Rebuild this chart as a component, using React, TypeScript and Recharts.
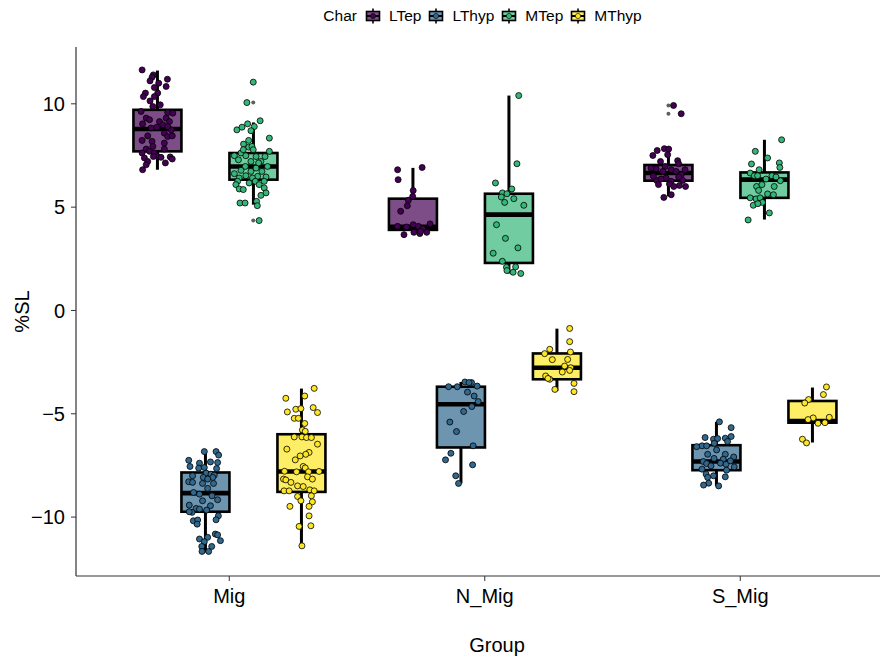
import React from 'react';
import { ComposedChart, Bar, Scatter, XAxis, YAxis, Legend } from 'recharts';

const categories = ['Mig', 'N_Mig', 'S_Mig'];
const seriesNames = ['LTep', 'LThyp', 'MTep', 'MThyp'];
const seriesColors = ['#440154', '#31688E', '#35B779', '#FDE725'];
const boxFills = ['#7C4D87', '#6E95B0', '#71CCA1', '#FDEE66'];
const yTicks = [-10, -5, 0, 5, 10];

// [lower whisker, q1, median, q3, upper whisker] for Mig, N_Mig, S_Mig
const ltepStats = [
  [6.81, 7.7, 8.78, 9.71, 11.61],
  [3.67, 3.9, 4.05, 5.41, 6.9],
  [5.52, 6.28, 6.65, 7.04, 7.86],
];
const lthypStats = [
  [-11.71, -9.74, -8.84, -7.84, -6.83],
  [-8.37, -6.63, -4.54, -3.69, -3.46],
  [-8.49, -7.73, -7.31, -6.52, -5.39],
];
const mtepStats = [
  [5.12, 6.33, 6.97, 7.62, 9.1],
  [1.79, 2.3, 4.64, 5.65, 10.4],
  [4.4, 5.45, 6.33, 6.68, 8.26],
];
const mthypStats = [
  [-11.38, -8.78, -7.79, -5.99, -3.78],
  [-3.9, -3.33, -2.77, -2.08, -0.88],
  [-6.39, -5.43, -5.35, -4.38, -3.73],
];
const allStats = [ltepStats, lthypStats, mtepStats, mthypStats];

// outliers: [category index, series index, value]
const outliers: [number, number, number][] = [
  [0, 2, 11.05], [0, 2, 10.06], [0, 2, 4.35],
  [2, 0, 9.92], [2, 0, 9.52],
];

// jittered observations: [category index, jitter, value]
const ltepPoints: [number, number, number][] = [
  [0, -0.06, 11.64], [0, -0.016, 11.4], [0, -0.021, 11.29], [0, -0.029, 11.11], [0, 0.005, 11.0],
  [0, 0.039, 11.19], [0, 0.034, 10.84], [0, -0.012, 10.79], [0, 0.001, 10.52], [0, -0.047, 10.52],
  [0, -0.055, 10.35], [0, -0.012, 10.35], [0, -0.029, 10.14], [0, -0.018, 9.87], [0, 0.011, 9.95],
  [0, -0.064, 9.63], [0, 0.04, 9.58], [0, 0.06, 9.55], [0, 0.034, 9.31], [0, -0.044, 9.31],
  [0, 0.008, 9.14], [0, 0.047, 9.14], [0, -0.058, 9.03], [0, 0.021, 8.99], [0, -0.025, 8.83],
  [0, 0.054, 8.74], [0, 0.027, 8.58], [0, -0.038, 8.45], [0, 0.04, 8.42], [0, 0.058, 8.45],
  [0, -0.06, 8.23], [0, -0.021, 8.18], [0, 0.027, 8.1], [0, -0.018, 7.94], [0, -0.044, 7.81],
  [0, -0.031, 7.7], [0, -0.06, 7.62], [0, -0.012, 7.62], [0, 0.027, 7.81], [0, 0.001, 7.45],
  [0, -0.051, 7.38], [0, 0.014, 7.41], [0, 0.05, 7.43], [0, 0.058, 7.33], [0, -0.038, 7.21],
  [0, -0.044, 7.05], [0, 0.031, 7.14], [0, -0.058, 6.81], [0, -0.016, 7.45], [0, -0.031, 9.23],
  [0, -0.003, 8.87], [0, 0.04, 8.9],
  [1, -0.06, 6.81], [1, -0.058, 6.33], [1, 0.036, 6.92], [1, 0.001, 5.8], [1, -0.001, 5.52],
  [1, -0.018, 5.33], [1, -0.022, 5.07], [1, -0.048, 4.8], [1, -0.06, 4.07], [1, -0.025, 4.04],
  [1, 0.001, 4.15], [1, 0.021, 4.07], [1, 0.038, 3.95], [1, 0.067, 4.19], [1, -0.035, 3.67],
  [1, 0.004, 3.78], [1, 0.027, 3.72], [1, 0.054, 3.78], [1, 0.03, 3.83],
  [2, 0.02, 9.92], [2, 0.05, 9.52], [2, -0.061, 7.5], [2, -0.044, 7.74], [2, -0.016, 7.83],
  [2, 0.001, 7.81], [2, -0.003, 7.54], [2, -0.031, 7.21], [2, 0.036, 7.25], [2, 0.04, 7.1],
  [2, -0.048, 6.86], [2, -0.013, 6.97], [2, 0.011, 6.81], [2, 0.03, 6.73], [2, 0.065, 6.81],
  [2, -0.022, 6.73], [2, 0.05, 6.57], [2, -0.046, 6.29], [2, -0.009, 6.41], [2, 0.011, 6.25],
  [2, 0.056, 6.29], [2, -0.029, 6.36], [2, 0.04, 6.46], [2, -0.039, 6.09], [2, 0.004, 6.12],
  [2, 0.043, 6.05], [2, 0.067, 6.0], [2, 0.021, 6.0], [2, 0.011, 5.6], [2, -0.018, 5.47],
  [2, -0.068, 6.89], [2, -0.059, 6.49],
];
const lthypPoints: [number, number, number][] = [
  [0, -0.004, -6.83], [0, 0.042, -6.83], [0, 0.052, -7.0], [0, -0.065, -7.25], [0, -0.023, -7.39],
  [0, 0.02, -7.33], [0, 0.048, -7.36], [0, -0.06, -7.55], [0, -0.026, -7.63], [0, -0.004, -7.6],
  [0, 0.044, -7.65], [0, 0.003, -7.87], [0, 0.022, -7.92], [0, 0.035, -7.97], [0, -0.05, -8.0],
  [0, -0.008, -8.08], [0, -0.065, -8.29], [0, -0.05, -8.32], [0, -0.011, -8.37], [0, 0.032, -8.37],
  [0, 0.009, -8.61], [0, -0.046, -8.81], [0, -0.023, -8.89], [0, 0.026, -8.97], [0, -0.011, -9.21],
  [0, 0.048, -9.16], [0, -0.063, -9.42], [0, -0.036, -9.58], [0, 0.02, -9.45], [0, -0.023, -9.61],
  [0, -0.052, -9.77], [0, 0.005, -9.66], [0, 0.051, -9.94], [0, -0.047, -10.18], [0, -0.03, -10.14],
  [0, 0.042, -10.13], [0, -0.032, -10.34], [0, 0.039, -10.82], [0, 0.048, -10.86], [0, -0.023, -11.06],
  [0, 0.009, -10.98], [0, 0.059, -11.14], [0, -0.004, -11.19], [0, -0.014, -11.42], [0, 0.025, -11.42],
  [0, -0.013, -11.66], [0, 0.013, -11.66], [0, 0.029, -8.08], [0, 0.009, -8.16], [0, -0.063, -9.74],
  [1, -0.048, -3.69], [1, -0.014, -3.69], [1, 0.016, -3.46], [1, 0.042, -3.49], [1, 0.064, -3.66],
  [1, 0.026, -3.95], [1, 0.052, -4.14], [1, 0.068, -4.41], [1, 0.043, -4.65], [1, 0.011, -4.89],
  [1, -0.043, -5.4], [1, -0.017, -5.86], [1, 0.048, -6.55], [1, -0.039, -6.91], [1, -0.06, -7.23],
  [1, 0.046, -7.47], [1, -0.02, -8.0], [1, -0.009, -8.37], [1, 0.032, -3.49],
  [2, 0.012, -5.39], [2, 0.058, -5.67], [2, -0.044, -6.15], [2, -0.011, -6.23], [2, 0.005, -6.2],
  [2, 0.035, -6.18], [2, 0.058, -6.1], [2, 0.044, -6.34], [2, -0.056, -6.55], [2, -0.038, -6.55],
  [2, -0.008, -6.43], [2, 0.001, -6.75], [2, -0.034, -6.96], [2, 0.035, -6.96], [2, 0.068, -7.09],
  [2, -0.009, -7.16], [2, -0.051, -7.31], [2, 0.027, -7.2], [2, -0.038, -7.41], [2, -0.021, -7.52],
  [2, 0.016, -7.39], [2, 0.038, -7.44], [2, 0.055, -7.28], [2, 0.07, -7.57], [2, -0.056, -7.68],
  [2, 0.04, -7.73], [2, -0.04, -7.92], [2, -0.011, -8.0], [2, 0.035, -8.05], [2, -0.034, -8.08],
  [2, -0.03, -8.36], [2, -0.05, -8.45], [2, 0.009, -8.49], [2, -0.077, -6.59],
];
const mtepPoints: [number, number, number][] = [
  [0, 0.0, 11.05], [0, -0.025, 10.06], [0, 0.027, 9.18], [0, -0.064, 8.74], [0, -0.044, 8.87],
  [0, -0.022, 9.03], [0, 0.004, 8.9], [0, -0.009, 8.7], [0, 0.063, 8.34], [0, -0.038, 8.05],
  [0, -0.018, 7.9], [0, -0.005, 7.94], [0, 0.063, 7.7], [0, -0.048, 7.62], [0, -0.074, 7.49],
  [0, -0.029, 7.49], [0, 0.011, 7.45], [0, 0.046, 7.45], [0, -0.058, 7.29], [0, -0.009, 7.21],
  [0, 0.03, 7.21], [0, 0.056, 6.97], [0, -0.031, 6.97], [0, 0.011, 6.89], [0, -0.048, 6.78],
  [0, -0.009, 6.73], [0, 0.034, 6.73], [0, -0.074, 6.62], [0, -0.029, 6.52], [0, 0.017, 6.49],
  [0, -0.055, 6.41], [0, -0.003, 6.41], [0, 0.05, 6.46], [0, -0.061, 6.25], [0, -0.016, 6.17],
  [0, 0.008, 6.25], [0, 0.043, 6.25], [0, -0.068, 6.09], [0, 0.023, 6.09], [0, -0.055, 5.88],
  [0, -0.039, 5.85], [0, 0.043, 5.93], [0, 0.05, 5.69], [0, 0.03, 5.57], [0, -0.052, 5.2],
  [0, -0.032, 5.2], [0, 0.013, 5.28], [0, 0.016, 5.07], [0, 0.023, 4.35], [0, -0.018, 8.23],
  [0, 0.0, 7.78], [0, 0.021, 7.14], [0, -0.039, 7.78],
  [1, 0.039, 10.4], [1, 0.032, 7.1], [1, -0.052, 6.17], [1, -0.025, 5.69], [1, -0.007, 5.65],
  [1, 0.012, 5.88], [1, -0.029, 5.49], [1, 0.02, 5.41], [1, -0.016, 5.23], [1, 0.059, 5.09],
  [1, -0.048, 4.15], [1, -0.013, 3.49], [1, 0.036, 3.03], [1, -0.061, 2.77], [1, -0.025, 2.38],
  [1, -0.009, 2.09], [1, 0.027, 2.11], [1, -0.007, 1.93], [1, 0.017, 1.85], [1, 0.047, 1.79],
  [2, 0.068, 8.26], [2, -0.035, 7.7], [2, 0.013, 7.38], [2, -0.05, 7.09], [2, 0.059, 7.14],
  [2, 0.061, 6.92], [2, -0.02, 6.81], [2, -0.055, 6.65], [2, -0.039, 6.52], [2, -0.026, 6.52],
  [2, 0.03, 6.52], [2, 0.007, 6.36], [2, 0.063, 6.28], [2, -0.03, 6.0], [2, -0.009, 6.09],
  [2, 0.039, 6.0], [2, -0.022, 5.81], [2, 0.013, 5.64], [2, 0.036, 5.6], [2, -0.055, 5.45],
  [2, -0.032, 5.4], [2, -0.016, 5.45], [2, -0.007, 5.23], [2, -0.043, 5.09], [2, -0.025, 5.17],
  [2, 0.02, 4.72], [2, -0.063, 4.38], [2, 0.046, 6.46],
];
const mthypPoints: [number, number, number][] = [
  [0, 0.051, -3.77], [0, 0.014, -4.14], [0, -0.06, -4.25], [0, -0.021, -4.78], [0, -0.001, -4.75],
  [0, 0.047, -4.7], [0, 0.064, -4.94], [0, -0.054, -4.91], [0, -0.027, -5.22], [0, -0.011, -5.22],
  [0, 0.014, -5.47], [0, 0.005, -5.78], [0, 0.016, -5.85], [0, -0.027, -6.12], [0, 0.003, -6.12],
  [0, 0.021, -6.15], [0, 0.04, -6.15], [0, 0.064, -6.47], [0, -0.056, -6.71], [0, 0.031, -6.87],
  [0, 0.018, -6.96], [0, -0.004, -7.04], [0, -0.023, -7.23], [0, 0.008, -7.55], [0, 0.016, -7.62],
  [0, -0.065, -7.78], [0, -0.018, -7.81], [0, 0.029, -7.81], [0, 0.07, -7.79], [0, 0.025, -8.05],
  [0, -0.069, -8.16], [0, -0.06, -8.2], [0, 0.044, -8.16], [0, -0.04, -8.32], [0, -0.014, -8.49],
  [0, 0.008, -8.52], [0, -0.067, -8.73], [0, -0.047, -8.73], [0, 0.034, -8.68], [0, 0.051, -8.73],
  [0, 0.04, -8.97], [0, -0.014, -9.0], [0, -0.001, -9.21], [0, 0.044, -9.26], [0, -0.044, -9.48],
  [0, 0.031, -9.48], [0, 0.031, -9.94], [0, -0.008, -10.45], [0, 0.038, -10.42], [0, 0.003, -11.39],
  [1, 0.051, -0.87], [1, 0.051, -1.51], [1, 0.054, -2.01], [1, -0.027, -1.88], [1, -0.047, -2.09],
  [1, -0.017, -2.38], [1, 0.043, -2.37], [1, 0.031, -2.69], [1, 0.055, -2.77], [1, 0.051, -2.9],
  [1, 0.022, -2.98], [1, -0.043, -3.17], [1, -0.027, -3.33], [1, -0.034, -3.29], [1, 0.068, -3.53],
  [1, -0.007, -3.82], [1, 0.068, -3.93],
  [2, 0.056, -3.7], [2, 0.044, -4.07], [2, -0.014, -4.31], [2, -0.029, -4.48], [2, 0.004, -5.2],
  [2, -0.016, -5.28], [2, 0.023, -5.46], [2, 0.05, -5.43], [2, 0.067, -5.17], [2, -0.038, -6.23],
  [2, -0.022, -6.41],
];
const allPoints = [ltepPoints, lthypPoints, mtepPoints, mthypPoints];

const DODGE = 0.75 / 4;
const dodgeX = (ci: number, si: number) => ci + 1 + (si - 1.5) * DODGE;

const boxRows = categories.map((group, ci) => {
  const row: any = { group, idx: ci };
  seriesNames.forEach((name, si) => {
    const s = allStats[si][ci];
    row[name] = [s[1], s[3]];
  });
  return row;
});

const pointData = allPoints.map((pts, si) =>
  pts.map(([ci, j, v]) => ({ x: dodgeX(ci, si) + j, y: v }))
);
const outlierData = outliers.map(([ci, si, v]) => ({ x: dodgeX(ci, si), y: v }));

const makeBoxShape = (si: number) => (props: any) => {
  const { x, y, width, height, payload } = props;
  if (x == null || payload == null) return <g />;
  const [lo, q1, med, q3, hi] = allStats[si][payload.idx];
  const top = Math.min(y, y + height);
  const h = Math.abs(height);
  const ppu = h / (q3 - q1);
  const py = (v: number) => top + (q3 - v) * ppu;
  const cx = x + width / 2;
  return (
    <g>
      <line x1={cx} x2={cx} y1={py(hi)} y2={top} stroke="#000" strokeWidth={3} />
      <line x1={cx} x2={cx} y1={top + h} y2={py(lo)} stroke="#000" strokeWidth={3} />
      <rect x={x} y={top} width={width} height={h} fill={boxFills[si]} stroke="#000" strokeWidth={2.6} />
      <line x1={x} x2={x + width} y1={py(med)} y2={py(med)} stroke="#000" strokeWidth={4.6} />
    </g>
  );
};

const makePointShape = (si: number) => (props: any) => {
  const { cx, cy } = props;
  if (cx == null || cy == null) return <g />;
  return <circle cx={cx} cy={cy} r={3} fill={seriesColors[si]} stroke="#000" strokeWidth={0.8} />;
};

const outlierShape = (props: any) => {
  const { cx, cy } = props;
  if (cx == null || cy == null) return <g />;
  return <circle cx={cx} cy={cy} r={2} fill="#5f5f5f" />;
};

const LegendGlyph = ({ si }: { si: number }) => (
  <svg width={16} height={16} style={{ display: 'block' }}>
    <line x1={8} x2={8} y1={0.5} y2={15.5} stroke="#000" strokeWidth={1.6} />
    <rect x={1.5} y={3.5} width={13} height={9} fill={boxFills[si]} stroke="#000" strokeWidth={1.6} />
    <line x1={1.5} x2={14.5} y1={8} y2={8} stroke="#000" strokeWidth={2} />
    <circle cx={8} cy={8} r={2.6} fill={seriesColors[si]} stroke="#000" strokeWidth={0.6} />
  </svg>
);

const LegendContent = () => (
  <div
    style={{
      display: 'flex',
      alignItems: 'center',
      justifyContent: 'center',
      paddingLeft: 84,
      boxSizing: 'border-box',
      width: 881,
      fontSize: 15.5,
      color: '#000',
      fontFamily: '"Liberation Sans", Arial, sans-serif',
    }}
  >
    <span style={{ marginRight: 8 }}>Char</span>
    {seriesNames.map((n, si) => (
      <span key={n} style={{ display: 'flex', alignItems: 'center', marginRight: si < 3 ? 7 : 0 }}>
        <LegendGlyph si={si} />
        <span style={{ marginLeft: 8 }}>{n}</span>
      </span>
    ))}
  </div>
);

const fmt = (v: number) => (v < 0 ? `\u2212${Math.abs(v)}` : `${v}`);

export default function App() {
  return (
    <div style={{ position: 'absolute', left: 0, top: 0, fontFamily: '"Liberation Sans", Arial, sans-serif' }}>
      <ComposedChart
        width={881}
        height={657}
        data={boxRows}
        margin={{ top: 47, right: 1, bottom: 0, left: 0 }}
        barCategoryGap="12.5%"
        barGap={0}
      >
        <XAxis
          xAxisId="cat"
          dataKey="group"
          type="category"
          height={81}
          padding={{ left: 25.5, right: 12 }}
          axisLine={{ stroke: '#333', strokeWidth: 1.2 }}
          tickLine={{ stroke: '#333' }}
          tickSize={5}
          tickMargin={8}
          tick={{ fill: '#000', fontSize: 20 }}
          label={{ value: 'Group', position: 'insideBottom', offset: 5, dx: 19, style: { fontSize: 20, fill: '#000' } }}
        />
        <XAxis xAxisId="num" dataKey="x" type="number" domain={[0.4, 3.5468]} allowDataOverflow hide />
        <YAxis
          type="number"
          domain={[-12.85, 12.75]}
          ticks={yTicks}
          allowDataOverflow
          width={76}
          tickFormatter={fmt}
          axisLine={{ stroke: '#333', strokeWidth: 1.2 }}
          tickLine={{ stroke: '#333' }}
          tickSize={5}
          tickMargin={6}
          tick={{ fill: '#000', fontSize: 20 }}
          label={{ value: '%SL', angle: -90, position: 'insideLeft', offset: 22, style: { textAnchor: 'middle', fontSize: 20, fill: '#000' } }}
        />
        <Legend
          layout="horizontal"
          verticalAlign="middle"
          align="center"
          content={<LegendContent />}
          wrapperStyle={{ top: 7, left: 0, width: 881 }}
        />
        {seriesNames.map((name, si) => (
          <Bar
            key={name}
            xAxisId="cat"
            dataKey={name}
            isAnimationActive={false}
            shape={makeBoxShape(si)}
            legendType="none"
          />
        ))}
        <Scatter
          xAxisId="num"
          data={outlierData}
          dataKey="y"
          isAnimationActive={false}
          shape={outlierShape}
          legendType="none"
        />
        {seriesNames.map((name, si) => (
          <Scatter
            key={'p' + name}
            xAxisId="num"
            data={pointData[si]}
            dataKey="y"
            name={name}
            isAnimationActive={false}
            shape={makePointShape(si)}
            legendType="none"
          />
        ))}
      </ComposedChart>
    </div>
  );
}
